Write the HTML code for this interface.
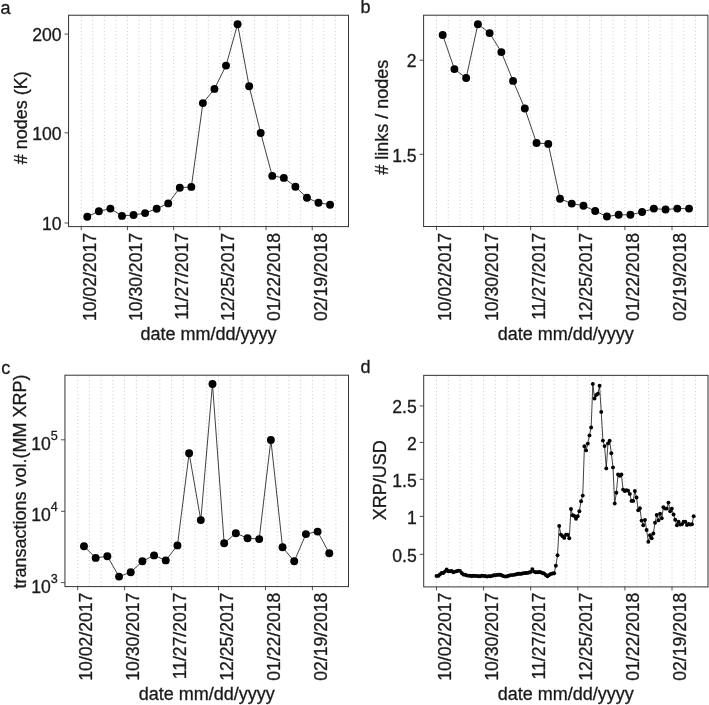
<!DOCTYPE html>
<html lang="en"><head><meta charset="utf-8"><title>Ripple network figure</title>
<style>html,body{margin:0;padding:0;background:#fff}svg{display:block;will-change:transform;opacity:0.999}text{font-family:"Liberation Sans", sans-serif;font-size:18px;fill:#1a1a1a;stroke:#1a1a1a;stroke-width:0.3px}text.t{font-size:17.6px}</style></head><body>
<svg width="709" height="705" viewBox="0 0 709 705">
<rect width="709" height="705" fill="#fff"/>
<path d="M81.25 16.45V226.1M92.8 16.45V226.1M104.35 16.45V226.1M115.9 16.45V226.1M127.45 16.45V226.1M139 16.45V226.1M150.55 16.45V226.1M162.1 16.45V226.1M173.65 16.45V226.1M185.2 16.45V226.1M196.75 16.45V226.1M208.3 16.45V226.1M219.85 16.45V226.1M231.4 16.45V226.1M242.95 16.45V226.1M254.5 16.45V226.1M266.05 16.45V226.1M277.6 16.45V226.1M289.15 16.45V226.1M300.7 16.45V226.1M312.25 16.45V226.1M323.8 16.45V226.1M335.35 16.45V226.1" fill="none" stroke="#b8b8b8" stroke-width="0.8" stroke-dasharray="0.9 2.7"/>
<path d="M436.5 16.4V226M448.27 16.4V226M460.05 16.4V226M471.82 16.4V226M483.6 16.4V226M495.38 16.4V226M507.15 16.4V226M518.92 16.4V226M530.7 16.4V226M542.48 16.4V226M554.25 16.4V226M566.02 16.4V226M577.8 16.4V226M589.58 16.4V226M601.35 16.4V226M613.12 16.4V226M624.9 16.4V226M636.67 16.4V226M648.45 16.4V226M660.23 16.4V226M672 16.4V226M683.77 16.4V226M695.55 16.4V226" fill="none" stroke="#b8b8b8" stroke-width="0.8" stroke-dasharray="0.9 2.7"/>
<path d="M77.7 376.4V586.1M89.44 376.4V586.1M101.17 376.4V586.1M112.91 376.4V586.1M124.64 376.4V586.1M136.38 376.4V586.1M148.11 376.4V586.1M159.84 376.4V586.1M171.58 376.4V586.1M183.31 376.4V586.1M195.05 376.4V586.1M206.78 376.4V586.1M218.52 376.4V586.1M230.25 376.4V586.1M241.99 376.4V586.1M253.72 376.4V586.1M265.46 376.4V586.1M277.19 376.4V586.1M288.93 376.4V586.1M300.66 376.4V586.1M312.4 376.4V586.1M324.13 376.4V586.1M335.87 376.4V586.1" fill="none" stroke="#b8b8b8" stroke-width="0.8" stroke-dasharray="0.9 2.7"/>
<path d="M436.5 376.55V586.4M448.27 376.55V586.4M460.05 376.55V586.4M471.82 376.55V586.4M483.6 376.55V586.4M495.38 376.55V586.4M507.15 376.55V586.4M518.92 376.55V586.4M530.7 376.55V586.4M542.48 376.55V586.4M554.25 376.55V586.4M566.02 376.55V586.4M577.8 376.55V586.4M589.58 376.55V586.4M601.35 376.55V586.4M613.12 376.55V586.4M624.9 376.55V586.4M636.67 376.55V586.4M648.45 376.55V586.4M660.23 376.55V586.4M672 376.55V586.4M683.77 376.55V586.4M695.55 376.55V586.4" fill="none" stroke="#b8b8b8" stroke-width="0.8" stroke-dasharray="0.9 2.7"/>
<polyline points="87.3,216.7 98.86,211.3 110.42,208.6 121.98,215.9 133.54,215 145.1,213.1 156.66,208.7 168.22,203.4 179.78,187.8 191.34,186.9 202.9,103.1 214.46,88.9 226.02,65.6 237.58,24.2 249.14,86.2 260.7,133 272.26,175.9 283.82,177.9 295.38,186.7 306.94,197.7 318.5,202.8 330.06,204.7" fill="none" stroke="#111" stroke-width="0.8" stroke-linejoin="round"/>
<g fill="#000"><circle cx="87.3" cy="216.7" r="3.95"/><circle cx="98.86" cy="211.3" r="3.95"/><circle cx="110.42" cy="208.6" r="3.95"/><circle cx="121.98" cy="215.9" r="3.95"/><circle cx="133.54" cy="215" r="3.95"/><circle cx="145.1" cy="213.1" r="3.95"/><circle cx="156.66" cy="208.7" r="3.95"/><circle cx="168.22" cy="203.4" r="3.95"/><circle cx="179.78" cy="187.8" r="3.95"/><circle cx="191.34" cy="186.9" r="3.95"/><circle cx="202.9" cy="103.1" r="3.95"/><circle cx="214.46" cy="88.9" r="3.95"/><circle cx="226.02" cy="65.6" r="3.95"/><circle cx="237.58" cy="24.2" r="3.95"/><circle cx="249.14" cy="86.2" r="3.95"/><circle cx="260.7" cy="133" r="3.95"/><circle cx="272.26" cy="175.9" r="3.95"/><circle cx="283.82" cy="177.9" r="3.95"/><circle cx="295.38" cy="186.7" r="3.95"/><circle cx="306.94" cy="197.7" r="3.95"/><circle cx="318.5" cy="202.8" r="3.95"/><circle cx="330.06" cy="204.7" r="3.95"/></g>
<polyline points="442.7,35 454.43,69.1 466.16,78 477.89,24.2 489.62,33.1 501.35,52.1 513.08,80.9 524.81,108.5 536.54,143 548.27,143.9 560,198.7 571.73,203.6 583.46,205.7 595.19,211 606.92,216.5 618.65,214.8 630.38,214.8 642.11,212 653.84,208.6 665.57,209.5 677.3,208.6 689.03,208.6" fill="none" stroke="#111" stroke-width="0.8" stroke-linejoin="round"/>
<g fill="#000"><circle cx="442.7" cy="35" r="3.95"/><circle cx="454.43" cy="69.1" r="3.95"/><circle cx="466.16" cy="78" r="3.95"/><circle cx="477.89" cy="24.2" r="3.95"/><circle cx="489.62" cy="33.1" r="3.95"/><circle cx="501.35" cy="52.1" r="3.95"/><circle cx="513.08" cy="80.9" r="3.95"/><circle cx="524.81" cy="108.5" r="3.95"/><circle cx="536.54" cy="143" r="3.95"/><circle cx="548.27" cy="143.9" r="3.95"/><circle cx="560" cy="198.7" r="3.95"/><circle cx="571.73" cy="203.6" r="3.95"/><circle cx="583.46" cy="205.7" r="3.95"/><circle cx="595.19" cy="211" r="3.95"/><circle cx="606.92" cy="216.5" r="3.95"/><circle cx="618.65" cy="214.8" r="3.95"/><circle cx="630.38" cy="214.8" r="3.95"/><circle cx="642.11" cy="212" r="3.95"/><circle cx="653.84" cy="208.6" r="3.95"/><circle cx="665.57" cy="209.5" r="3.95"/><circle cx="677.3" cy="208.6" r="3.95"/><circle cx="689.03" cy="208.6" r="3.95"/></g>
<polyline points="84,546.3 95.68,557.9 107.36,556.3 119.04,576.6 130.72,572.2 142.4,561.3 154.08,555.4 165.76,560.4 177.44,545.4 189.12,453.3 200.8,520.1 212.48,384 224.16,543.2 235.84,533.2 247.52,538.2 259.2,539.1 270.88,439.9 282.56,547.3 294.24,561.3 305.92,534.1 317.6,531.6 329.28,553.2" fill="none" stroke="#111" stroke-width="0.8" stroke-linejoin="round"/>
<g fill="#000"><circle cx="84" cy="546.3" r="3.95"/><circle cx="95.68" cy="557.9" r="3.95"/><circle cx="107.36" cy="556.3" r="3.95"/><circle cx="119.04" cy="576.6" r="3.95"/><circle cx="130.72" cy="572.2" r="3.95"/><circle cx="142.4" cy="561.3" r="3.95"/><circle cx="154.08" cy="555.4" r="3.95"/><circle cx="165.76" cy="560.4" r="3.95"/><circle cx="177.44" cy="545.4" r="3.95"/><circle cx="189.12" cy="453.3" r="3.95"/><circle cx="200.8" cy="520.1" r="3.95"/><circle cx="212.48" cy="384" r="3.95"/><circle cx="224.16" cy="543.2" r="3.95"/><circle cx="235.84" cy="533.2" r="3.95"/><circle cx="247.52" cy="538.2" r="3.95"/><circle cx="259.2" cy="539.1" r="3.95"/><circle cx="270.88" cy="439.9" r="3.95"/><circle cx="282.56" cy="547.3" r="3.95"/><circle cx="294.24" cy="561.3" r="3.95"/><circle cx="305.92" cy="534.1" r="3.95"/><circle cx="317.6" cy="531.6" r="3.95"/><circle cx="329.28" cy="553.2" r="3.95"/></g>
<polyline points="436.5,575.9 438.18,575.9 439.86,574.5 441.54,573 443.22,573 444.9,571.6 446.59,569.5 448.27,571.3 449.95,571.3 451.63,570.9 453.31,572.3 454.99,571.6 456.67,571.3 458.35,570.6 460.03,570.9 461.71,573 463.4,574.5 465.08,574.8 466.76,575.4 468.44,575.64 470.12,575.8 471.8,575.97 473.48,575.7 475.16,575.88 476.84,575.9 478.52,576.18 480.21,576.18 481.89,575.64 483.57,575.9 485.25,576.05 486.93,576.6 488.61,576.14 490.29,576.3 491.97,575.89 493.65,575.24 495.33,575.2 497.02,574.89 498.7,574.74 500.38,574.68 502.06,575.5 503.74,576.17 505.42,576.6 507.1,576.26 508.78,575.8 510.46,575.12 512.14,575.1 513.83,574.84 515.51,574.5 517.19,573.93 518.87,573.7 520.55,573.9 522.23,573.54 523.91,573.15 525.59,573 527.27,572.89 528.96,572.5 530.64,571.9 532.32,569.1 534,571.6 535.68,572.3 537.36,572.26 539.04,572.06 540.72,572.3 542.4,572.93 544.08,573.5 545.76,575.05 547.45,576.2 549.13,575 550.81,574 552.49,573.51 554.17,573.3 555.85,565.7 557.53,555.3 559.21,525.9 560.89,534.6 562.58,536.3 564.26,537.9 565.94,534.8 567.62,534.8 569.3,538.2 570.98,509 572.66,515.2 574.34,516 576.02,518.7 577.7,516.3 579.38,511.3 581.07,501.2 582.75,495.6 584.43,446.2 586.11,450.4 587.79,443.6 589.47,435.4 591.15,427.5 592.83,383.9 594.51,398.5 596.19,395 597.88,393.8 599.56,385.8 601.24,411.9 602.92,440.6 604.6,446.1 606.28,468.4 607.96,443.4 609.64,440.7 611.32,453.2 613,467.4 614.69,503.5 616.37,492.7 618.05,474.5 619.73,475.8 621.41,474.5 623.09,489.6 624.77,491.1 626.45,490.3 628.13,490.7 629.82,493.9 631.5,500.9 633.18,500.9 634.86,491 636.54,497.5 638.22,510.3 639.9,508.2 641.58,520.6 643.26,525.2 644.94,519.9 646.62,530 648.31,541.8 649.99,535.3 651.67,538.2 653.35,533.5 655.03,522.8 656.71,515 658.39,520.4 660.07,513.7 661.75,518.2 663.43,507.3 665.12,508.6 666.8,508.6 668.48,502.6 670.16,511.2 671.84,508.6 673.52,514.5 675.2,519.8 676.88,525.3 678.56,521.8 680.25,524.6 681.93,524.2 683.61,521.8 685.29,521.8 686.97,525.1 688.65,524 690.33,524.6 692.01,524.2 693.69,516.2" fill="none" stroke="#111" stroke-width="0.8" stroke-linejoin="round"/>
<g fill="#000"><circle cx="436.5" cy="575.9" r="1.95"/><circle cx="438.18" cy="575.9" r="1.95"/><circle cx="439.86" cy="574.5" r="1.95"/><circle cx="441.54" cy="573" r="1.95"/><circle cx="443.22" cy="573" r="1.95"/><circle cx="444.9" cy="571.6" r="1.95"/><circle cx="446.59" cy="569.5" r="1.95"/><circle cx="448.27" cy="571.3" r="1.95"/><circle cx="449.95" cy="571.3" r="1.95"/><circle cx="451.63" cy="570.9" r="1.95"/><circle cx="453.31" cy="572.3" r="1.95"/><circle cx="454.99" cy="571.6" r="1.95"/><circle cx="456.67" cy="571.3" r="1.95"/><circle cx="458.35" cy="570.6" r="1.95"/><circle cx="460.03" cy="570.9" r="1.95"/><circle cx="461.71" cy="573" r="1.95"/><circle cx="463.4" cy="574.5" r="1.95"/><circle cx="465.08" cy="574.8" r="1.95"/><circle cx="466.76" cy="575.4" r="1.95"/><circle cx="468.44" cy="575.64" r="1.95"/><circle cx="470.12" cy="575.8" r="1.95"/><circle cx="471.8" cy="575.97" r="1.95"/><circle cx="473.48" cy="575.7" r="1.95"/><circle cx="475.16" cy="575.88" r="1.95"/><circle cx="476.84" cy="575.9" r="1.95"/><circle cx="478.52" cy="576.18" r="1.95"/><circle cx="480.21" cy="576.18" r="1.95"/><circle cx="481.89" cy="575.64" r="1.95"/><circle cx="483.57" cy="575.9" r="1.95"/><circle cx="485.25" cy="576.05" r="1.95"/><circle cx="486.93" cy="576.6" r="1.95"/><circle cx="488.61" cy="576.14" r="1.95"/><circle cx="490.29" cy="576.3" r="1.95"/><circle cx="491.97" cy="575.89" r="1.95"/><circle cx="493.65" cy="575.24" r="1.95"/><circle cx="495.33" cy="575.2" r="1.95"/><circle cx="497.02" cy="574.89" r="1.95"/><circle cx="498.7" cy="574.74" r="1.95"/><circle cx="500.38" cy="574.68" r="1.95"/><circle cx="502.06" cy="575.5" r="1.95"/><circle cx="503.74" cy="576.17" r="1.95"/><circle cx="505.42" cy="576.6" r="1.95"/><circle cx="507.1" cy="576.26" r="1.95"/><circle cx="508.78" cy="575.8" r="1.95"/><circle cx="510.46" cy="575.12" r="1.95"/><circle cx="512.14" cy="575.1" r="1.95"/><circle cx="513.83" cy="574.84" r="1.95"/><circle cx="515.51" cy="574.5" r="1.95"/><circle cx="517.19" cy="573.93" r="1.95"/><circle cx="518.87" cy="573.7" r="1.95"/><circle cx="520.55" cy="573.9" r="1.95"/><circle cx="522.23" cy="573.54" r="1.95"/><circle cx="523.91" cy="573.15" r="1.95"/><circle cx="525.59" cy="573" r="1.95"/><circle cx="527.27" cy="572.89" r="1.95"/><circle cx="528.96" cy="572.5" r="1.95"/><circle cx="530.64" cy="571.9" r="1.95"/><circle cx="532.32" cy="569.1" r="1.95"/><circle cx="534" cy="571.6" r="1.95"/><circle cx="535.68" cy="572.3" r="1.95"/><circle cx="537.36" cy="572.26" r="1.95"/><circle cx="539.04" cy="572.06" r="1.95"/><circle cx="540.72" cy="572.3" r="1.95"/><circle cx="542.4" cy="572.93" r="1.95"/><circle cx="544.08" cy="573.5" r="1.95"/><circle cx="545.76" cy="575.05" r="1.95"/><circle cx="547.45" cy="576.2" r="1.95"/><circle cx="549.13" cy="575" r="1.95"/><circle cx="550.81" cy="574" r="1.95"/><circle cx="552.49" cy="573.51" r="1.95"/><circle cx="554.17" cy="573.3" r="1.95"/><circle cx="555.85" cy="565.7" r="1.95"/><circle cx="557.53" cy="555.3" r="1.95"/><circle cx="559.21" cy="525.9" r="1.95"/><circle cx="560.89" cy="534.6" r="1.95"/><circle cx="562.58" cy="536.3" r="1.95"/><circle cx="564.26" cy="537.9" r="1.95"/><circle cx="565.94" cy="534.8" r="1.95"/><circle cx="567.62" cy="534.8" r="1.95"/><circle cx="569.3" cy="538.2" r="1.95"/><circle cx="570.98" cy="509" r="1.95"/><circle cx="572.66" cy="515.2" r="1.95"/><circle cx="574.34" cy="516" r="1.95"/><circle cx="576.02" cy="518.7" r="1.95"/><circle cx="577.7" cy="516.3" r="1.95"/><circle cx="579.38" cy="511.3" r="1.95"/><circle cx="581.07" cy="501.2" r="1.95"/><circle cx="582.75" cy="495.6" r="1.95"/><circle cx="584.43" cy="446.2" r="1.95"/><circle cx="586.11" cy="450.4" r="1.95"/><circle cx="587.79" cy="443.6" r="1.95"/><circle cx="589.47" cy="435.4" r="1.95"/><circle cx="591.15" cy="427.5" r="1.95"/><circle cx="592.83" cy="383.9" r="1.95"/><circle cx="594.51" cy="398.5" r="1.95"/><circle cx="596.19" cy="395" r="1.95"/><circle cx="597.88" cy="393.8" r="1.95"/><circle cx="599.56" cy="385.8" r="1.95"/><circle cx="601.24" cy="411.9" r="1.95"/><circle cx="602.92" cy="440.6" r="1.95"/><circle cx="604.6" cy="446.1" r="1.95"/><circle cx="606.28" cy="468.4" r="1.95"/><circle cx="607.96" cy="443.4" r="1.95"/><circle cx="609.64" cy="440.7" r="1.95"/><circle cx="611.32" cy="453.2" r="1.95"/><circle cx="613" cy="467.4" r="1.95"/><circle cx="614.69" cy="503.5" r="1.95"/><circle cx="616.37" cy="492.7" r="1.95"/><circle cx="618.05" cy="474.5" r="1.95"/><circle cx="619.73" cy="475.8" r="1.95"/><circle cx="621.41" cy="474.5" r="1.95"/><circle cx="623.09" cy="489.6" r="1.95"/><circle cx="624.77" cy="491.1" r="1.95"/><circle cx="626.45" cy="490.3" r="1.95"/><circle cx="628.13" cy="490.7" r="1.95"/><circle cx="629.82" cy="493.9" r="1.95"/><circle cx="631.5" cy="500.9" r="1.95"/><circle cx="633.18" cy="500.9" r="1.95"/><circle cx="634.86" cy="491" r="1.95"/><circle cx="636.54" cy="497.5" r="1.95"/><circle cx="638.22" cy="510.3" r="1.95"/><circle cx="639.9" cy="508.2" r="1.95"/><circle cx="641.58" cy="520.6" r="1.95"/><circle cx="643.26" cy="525.2" r="1.95"/><circle cx="644.94" cy="519.9" r="1.95"/><circle cx="646.62" cy="530" r="1.95"/><circle cx="648.31" cy="541.8" r="1.95"/><circle cx="649.99" cy="535.3" r="1.95"/><circle cx="651.67" cy="538.2" r="1.95"/><circle cx="653.35" cy="533.5" r="1.95"/><circle cx="655.03" cy="522.8" r="1.95"/><circle cx="656.71" cy="515" r="1.95"/><circle cx="658.39" cy="520.4" r="1.95"/><circle cx="660.07" cy="513.7" r="1.95"/><circle cx="661.75" cy="518.2" r="1.95"/><circle cx="663.43" cy="507.3" r="1.95"/><circle cx="665.12" cy="508.6" r="1.95"/><circle cx="666.8" cy="508.6" r="1.95"/><circle cx="668.48" cy="502.6" r="1.95"/><circle cx="670.16" cy="511.2" r="1.95"/><circle cx="671.84" cy="508.6" r="1.95"/><circle cx="673.52" cy="514.5" r="1.95"/><circle cx="675.2" cy="519.8" r="1.95"/><circle cx="676.88" cy="525.3" r="1.95"/><circle cx="678.56" cy="521.8" r="1.95"/><circle cx="680.25" cy="524.6" r="1.95"/><circle cx="681.93" cy="524.2" r="1.95"/><circle cx="683.61" cy="521.8" r="1.95"/><circle cx="685.29" cy="521.8" r="1.95"/><circle cx="686.97" cy="525.1" r="1.95"/><circle cx="688.65" cy="524" r="1.95"/><circle cx="690.33" cy="524.6" r="1.95"/><circle cx="692.01" cy="524.2" r="1.95"/><circle cx="693.69" cy="516.2" r="1.95"/></g>
<rect x="68.55" y="15.25" width="279.95" height="211.35" fill="none" stroke="#333333" stroke-width="1"/>
<path d="M81.25 226.6v3.6M127.45 226.6v3.6M173.65 226.6v3.6M219.85 226.6v3.6M266.05 226.6v3.6M312.25 226.6v3.6M68.55 34.1h-4M68.55 132.85h-4M68.55 223h-4" fill="none" stroke="#333333" stroke-width="0.85"/>
<text class="t" transform="translate(95.65 233) rotate(-90)" text-anchor="end">10/02/2017</text>
<text class="t" transform="translate(141.85 233) rotate(-90)" text-anchor="end">10/30/2017</text>
<text class="t" transform="translate(188.05 233) rotate(-90)" text-anchor="end">11/27/2017</text>
<text class="t" transform="translate(234.25 233) rotate(-90)" text-anchor="end">12/25/2017</text>
<text class="t" transform="translate(280.45 233) rotate(-90)" text-anchor="end">01/22/2018</text>
<text class="t" transform="translate(326.65 233) rotate(-90)" text-anchor="end">02/19/2018</text>
<text class="t" x="61.55" y="41.3" text-anchor="end">200</text>
<text class="t" x="61.55" y="140.05" text-anchor="end">100</text>
<text class="t" x="61.55" y="230.2" text-anchor="end">10</text>
<text transform="translate(27.2 117.8) rotate(-90)" text-anchor="middle" fill="#000"># nodes (K)</text>
<text x="208.53" y="340" text-anchor="middle" fill="#000">date mm/dd/yyyy</text>
<rect x="423.6" y="15.2" width="284.3" height="211.3" fill="none" stroke="#333333" stroke-width="1"/>
<path d="M436.5 226.5v3.6M483.6 226.5v3.6M530.7 226.5v3.6M577.8 226.5v3.6M624.9 226.5v3.6M672 226.5v3.6M423.6 60.2h-4M423.6 154.3h-4" fill="none" stroke="#333333" stroke-width="0.85"/>
<text class="t" transform="translate(450.9 233) rotate(-90)" text-anchor="end">10/02/2017</text>
<text class="t" transform="translate(498 233) rotate(-90)" text-anchor="end">10/30/2017</text>
<text class="t" transform="translate(545.1 233) rotate(-90)" text-anchor="end">11/27/2017</text>
<text class="t" transform="translate(592.2 233) rotate(-90)" text-anchor="end">12/25/2017</text>
<text class="t" transform="translate(639.3 233) rotate(-90)" text-anchor="end">01/22/2018</text>
<text class="t" transform="translate(686.4 233) rotate(-90)" text-anchor="end">02/19/2018</text>
<text class="t" x="416.6" y="67.4" text-anchor="end">2</text>
<text class="t" x="416.6" y="161.5" text-anchor="end">1.5</text>
<text transform="translate(387.6 117.2) rotate(-90)" text-anchor="middle" fill="#000"># links / nodes</text>
<text x="565.75" y="340" text-anchor="middle" fill="#000">date mm/dd/yyyy</text>
<rect x="64.95" y="375.2" width="283.55" height="211.4" fill="none" stroke="#333333" stroke-width="1"/>
<path d="M77.7 586.6v3.6M124.64 586.6v3.6M171.58 586.6v3.6M218.52 586.6v3.6M265.46 586.6v3.6M312.4 586.6v3.6M64.95 439.8h-4M64.95 511.3h-4M64.95 582.6h-4" fill="none" stroke="#333333" stroke-width="0.85"/>
<text class="t" transform="translate(92.1 592.6) rotate(-90)" text-anchor="end">10/02/2017</text>
<text class="t" transform="translate(139.04 592.6) rotate(-90)" text-anchor="end">10/30/2017</text>
<text class="t" transform="translate(185.98 592.6) rotate(-90)" text-anchor="end">11/27/2017</text>
<text class="t" transform="translate(232.92 592.6) rotate(-90)" text-anchor="end">12/25/2017</text>
<text class="t" transform="translate(279.86 592.6) rotate(-90)" text-anchor="end">01/22/2018</text>
<text class="t" transform="translate(326.8 592.6) rotate(-90)" text-anchor="end">02/19/2018</text>
<text class="t" x="57.85" y="449.9" text-anchor="end">10<tspan font-size="12.6" dy="-10.1">5</tspan></text>
<text class="t" x="57.85" y="521.4" text-anchor="end">10<tspan font-size="12.6" dy="-10.1">4</tspan></text>
<text class="t" x="57.85" y="592.7" text-anchor="end">10<tspan font-size="12.6" dy="-10.1">3</tspan></text>
<text transform="translate(26 481.5) rotate(-90)" text-anchor="middle" fill="#000">transactions vol.(MM XRP)</text>
<text x="206.72" y="700.2" text-anchor="middle" fill="#000">date mm/dd/yyyy</text>
<rect x="423.7" y="375.35" width="284.3" height="211.55" fill="none" stroke="#333333" stroke-width="1"/>
<path d="M436.5 586.9v3.6M483.6 586.9v3.6M530.7 586.9v3.6M577.8 586.9v3.6M624.9 586.9v3.6M672 586.9v3.6M423.7 405.9h-4M423.7 442.4h-4M423.7 479.3h-4M423.7 516.4h-4M423.7 554.3h-4" fill="none" stroke="#333333" stroke-width="0.85"/>
<text class="t" transform="translate(450.9 592.7) rotate(-90)" text-anchor="end">10/02/2017</text>
<text class="t" transform="translate(498 592.7) rotate(-90)" text-anchor="end">10/30/2017</text>
<text class="t" transform="translate(545.1 592.7) rotate(-90)" text-anchor="end">11/27/2017</text>
<text class="t" transform="translate(592.2 592.7) rotate(-90)" text-anchor="end">12/25/2017</text>
<text class="t" transform="translate(639.3 592.7) rotate(-90)" text-anchor="end">01/22/2018</text>
<text class="t" transform="translate(686.4 592.7) rotate(-90)" text-anchor="end">02/19/2018</text>
<text class="t" x="416.7" y="413.1" text-anchor="end">2.5</text>
<text class="t" x="416.7" y="449.6" text-anchor="end">2</text>
<text class="t" x="416.7" y="486.5" text-anchor="end">1.5</text>
<text class="t" x="416.7" y="523.6" text-anchor="end">1</text>
<text class="t" x="416.7" y="561.5" text-anchor="end">0.5</text>
<text transform="translate(386.4 480.3) rotate(-90)" text-anchor="middle" fill="#000">XRP/USD</text>
<text x="565.85" y="700.2" text-anchor="middle" fill="#000">date mm/dd/yyyy</text>
<text x="0.5" y="13.7" fill="#000">a</text>
<text x="360.4" y="13.3" fill="#000">b</text>
<text x="1.3" y="373.7" fill="#000">c</text>
<text x="360.4" y="373.3" fill="#000">d</text>
</svg></body></html>
